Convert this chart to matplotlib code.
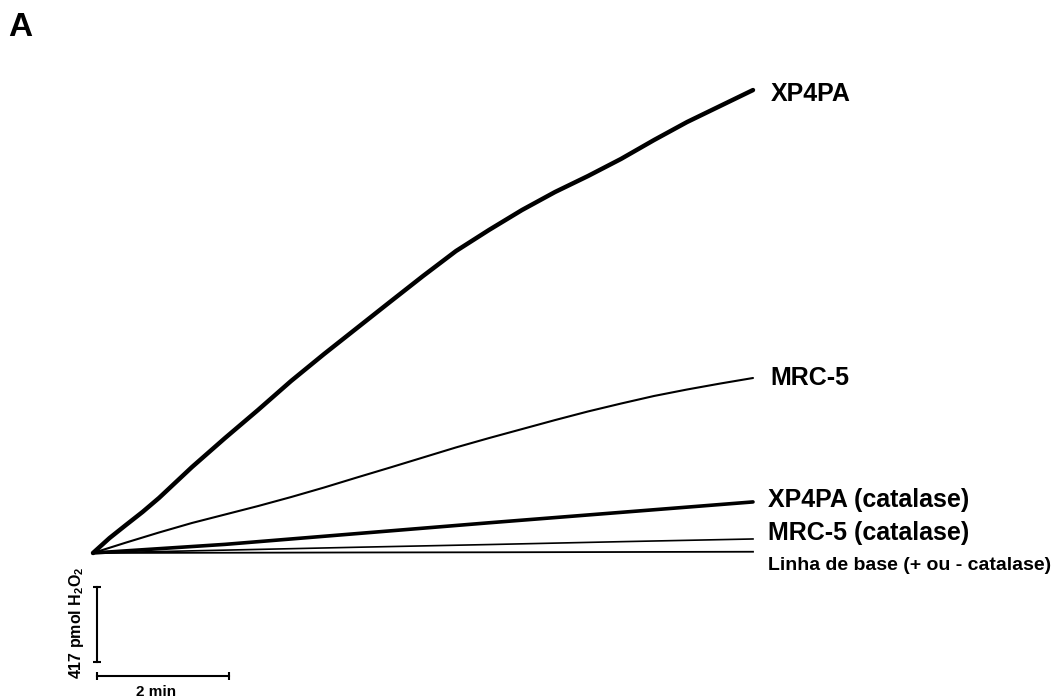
import matplotlib
matplotlib.use("Agg")
import matplotlib.pyplot as plt

plt.rcParams["font.family"] = ["Liberation Sans", "DejaVu Sans"]
plt.rcParams["font.weight"] = "bold"
plt.rcParams["mathtext.fontset"] = "custom"
plt.rcParams["mathtext.default"] = "bf"
plt.rcParams["mathtext.bf"] = "Liberation Sans:bold"
plt.rcParams["mathtext.rm"] = "Liberation Sans:bold"

# Time (min) and cumulative H2O2 released (pmol)
time_xp4pa = [0, 0.25, 0.5, 0.75, 1.0, 1.5, 2.0, 2.5, 3.0, 3.5, 4.0, 4.5,
              5.0, 5.5, 6.0, 6.5, 7.0, 7.5, 8.0, 8.5, 9.0, 9.5, 10.0]
xp4pa = [0, 83, 156, 228, 306, 478, 639, 795, 956, 1106, 1251, 1396,
         1540, 1679, 1796, 1907, 2007, 2096, 2191, 2296, 2396, 2485, 2574]

time_mrc5 = [0, 0.5, 1.0, 1.5, 2.0, 2.5, 3.0, 3.5, 4.0, 4.5, 5.0,
             5.5, 6.0, 6.5, 7.0, 7.5, 8.0, 8.5, 9.0, 9.5, 10.0]
mrc5 = [0, 58, 114, 167, 214, 261, 311, 364, 420, 475, 531,
        587, 639, 689, 739, 787, 831, 873, 909, 942, 973]

time_coarse = [0, 2, 4, 6, 8, 10]
xp4pa_catalase = [0, 48, 108, 168, 226, 284]
mrc5_catalase = [0, 16, 32, 47, 63, 78]
baseline = [0, 1.5, 3, 4, 5.5, 7]

series_labels = ["XP4PA", "MRC-5", "XP4PA (catalase)", "MRC-5 (catalase)",
                 "Linha de base (+ ou - catalase)"]

# Scale bars
scale_pmol = 417
scale_min = 2

fig = plt.figure(figsize=(10.57, 7.0), dpi=100)
ax = fig.add_axes([0, 0, 1, 1])
ax.set_xlim(-93 / 66, (1057 - 93) / 66)
ax.set_ylim(-817.3, 3074.7)
ax.axis("off")

ax.plot(time_xp4pa, xp4pa, color="black", lw=3.2, solid_capstyle="round",
        solid_joinstyle="round")
ax.plot(time_mrc5, mrc5, color="black", lw=1.5, solid_capstyle="round",
        solid_joinstyle="round")
ax.plot(time_coarse, xp4pa_catalase, color="black", lw=2.6,
        solid_capstyle="round")
ax.plot(time_coarse, mrc5_catalase, color="black", lw=1.2)
ax.plot(time_coarse, baseline, color="black", lw=1.3)

ends = [(time_xp4pa[-1], xp4pa[-1], 12.5, -2.5, 18),
        (time_mrc5[-1], mrc5[-1], 12.5, 0, 18),
        (time_coarse[-1], xp4pa_catalase[-1], 11, 1.5, 18),
        (time_coarse[-1], mrc5_catalase[-1], 11, 4.5, 18),
        (time_coarse[-1], baseline[-1], 11, -10, 14)]
for (tx, ty, dx, dy, fs), lab in zip(ends, series_labels):
    ax.annotate(lab, xy=(tx, ty), xytext=(dx, dy), textcoords="offset points",
                ha="left", va="center", fontsize=fs, fontweight="bold")

# Vertical scale bar (pmol)
bar_x = 0.06
v_top, v_bot = -190, -190 - scale_pmol
ax.plot([bar_x, bar_x], [v_top, v_bot], color="black", lw=1.5)
ax.plot([bar_x, bar_x], [v_top, v_bot], ls="none", marker="_", ms=6,
        mew=1.5, color="black")
ax.annotate(r"417 pmol H$_2$O$_2$", xy=(bar_x, (v_top + v_bot) / 2),
            xytext=(-15, 1.5), textcoords="offset points", rotation=90,
            ha="center", va="center", fontsize=11.5, fontweight="bold")

# Horizontal scale bar (min)
h_y = -682
ax.plot([bar_x, bar_x + scale_min], [h_y, h_y], color="black", lw=1.5)
ax.plot([bar_x, bar_x + scale_min], [h_y, h_y], ls="none", marker="|", ms=6,
        mew=1.5, color="black")
ax.annotate("2 min", xy=(bar_x + scale_min / 2, h_y), xytext=(-5, -11.5),
            textcoords="offset points", ha="center", va="center",
            fontsize=11, fontweight="bold")

fig.text(8 / 1057, 1 - 28 / 700, "A", ha="left", va="center",
         fontsize=24, fontweight="bold")

fig.savefig("out.png", dpi=100, facecolor="white")
